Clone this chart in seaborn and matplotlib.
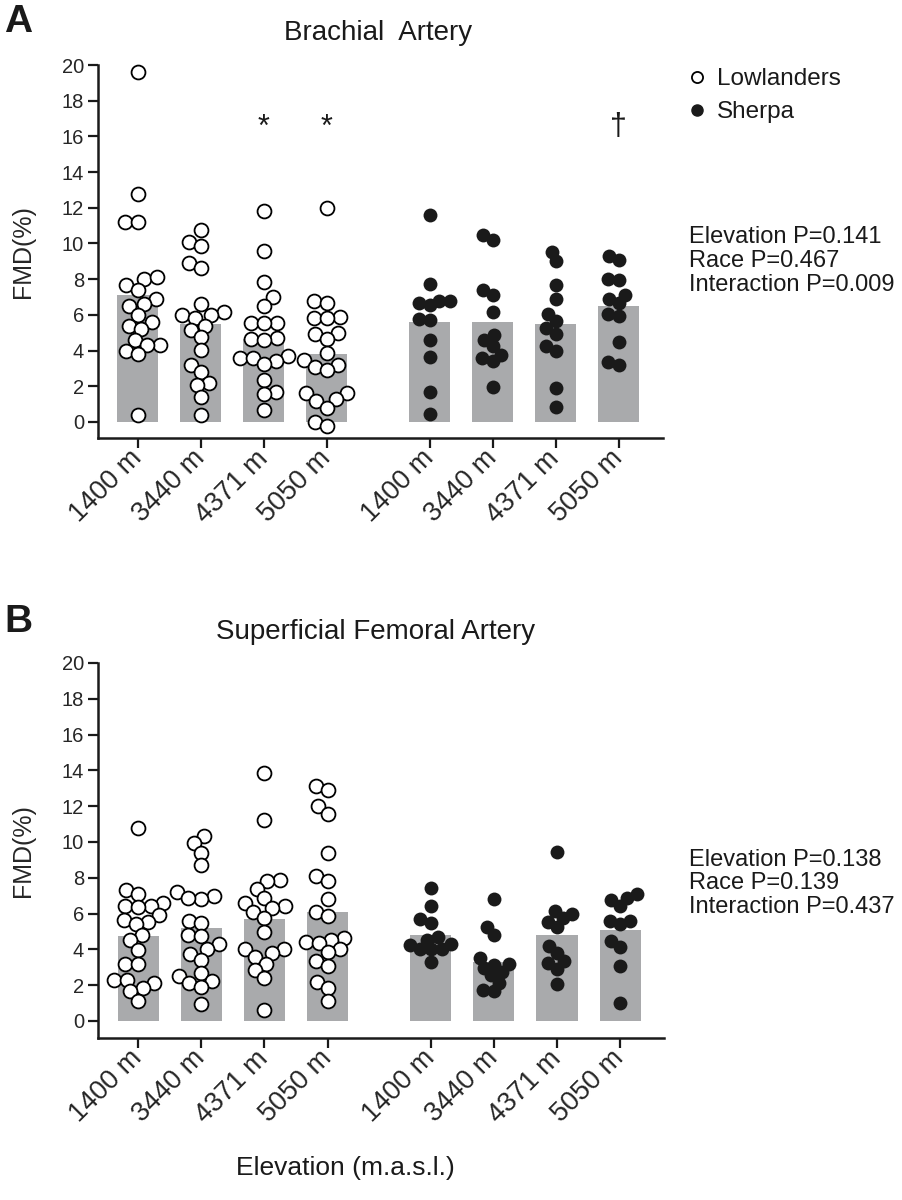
import matplotlib
matplotlib.use('Agg')
import matplotlib.pyplot as plt
from matplotlib.lines import Line2D
import pandas as pd
import seaborn as sns

# x tick labels (elevation)
elevations = ['1400 m', '3440 m', '4371 m', '5050 m']

# A: brachial artery FMD (%) - lowlanders
ba_low_1400 = [19.6, 12.8, 11.2, 11.2, 8.0, 8.1, 7.7, 7.4, 6.9, 6.6, 6.5, 6.0, 5.6, 5.4, 5.2, 4.6, 4.3, 4.3, 4.0, 3.8, 0.4]
ba_low_3440 = [10.75, 10.1, 9.85, 8.9, 8.65, 6.6, 6.15, 6.0, 6.0, 5.8, 5.4, 5.15, 4.75, 4.05, 3.2, 2.8, 2.2, 2.05, 1.4, 0.4]
ba_low_4371 = [11.8, 9.6, 7.85, 7.0, 6.5, 5.55, 5.55, 5.55, 4.7, 4.65, 4.6, 3.7, 3.6, 3.6, 3.4, 3.25, 2.35, 1.7, 1.55, 0.65]
ba_low_5050 = [12.0, 6.8, 6.65, 5.85, 5.9, 5.85, 4.9, 5.0, 4.65, 3.85, 3.45, 3.1, 3.2, 2.9, 1.6, 1.6, 1.2, 1.3, 0.8, 0.0, -0.25]
# A: sherpa
ba_sh_1400 = [11.6, 7.75, 6.8, 6.55, 6.65, 6.8, 5.7, 5.75, 4.6, 3.65, 1.7, 0.45]
ba_sh_3440 = [10.45, 10.2, 7.4, 7.1, 6.15, 4.85, 4.6, 4.25, 3.75, 3.6, 3.4, 1.95]
ba_sh_4371 = [9.55, 9.0, 7.65, 6.9, 6.05, 5.65, 5.25, 4.95, 4.25, 4.0, 1.9, 0.85]
ba_sh_5050 = [9.3, 9.05, 7.95, 8.0, 7.1, 6.9, 6.65, 5.95, 6.05, 4.5, 3.35, 3.2]
ba_bar_low = [7.1, 5.5, 4.67, 3.78]
ba_bar_sh = [5.6, 5.6, 5.48, 6.49]
ba_marks = ['', '', '*', '*', '', '', '', '†']
ba_stats = ['Elevation P=0.141', 'Race P=0.467', 'Interaction P=0.009']

# B: superficial femoral artery FMD (%) - lowlanders
sfa_low_1400 = [10.8, 7.3, 7.1, 6.6, 6.4, 6.4, 6.35, 5.9, 5.65, 5.55, 5.4, 4.8, 4.5, 3.95, 3.2, 3.2, 2.3, 2.3, 2.15, 1.85, 1.65, 1.1]
sfa_low_3440 = [10.35, 9.95, 9.4, 8.7, 7.2, 7.0, 6.8, 6.85, 5.6, 5.45, 4.8, 4.75, 4.3, 4.0, 3.75, 3.4, 2.7, 2.5, 2.25, 2.1, 1.9, 0.95]
sfa_low_4371 = [13.85, 11.25, 7.9, 7.8, 7.4, 6.85, 6.6, 6.4, 6.3, 6.1, 5.75, 4.95, 4.05, 4.0, 3.8, 3.55, 3.2, 2.85, 2.4, 0.6]
sfa_low_5050 = [13.15, 12.9, 12.0, 11.55, 9.4, 8.1, 7.8, 6.8, 6.1, 5.85, 4.65, 4.55, 4.4, 4.35, 4.0, 3.85, 3.35, 3.1, 2.2, 1.85, 1.1]
# B: sherpa
sfa_sh_1400 = [7.45, 6.4, 5.7, 5.5, 4.7, 4.55, 4.3, 4.25, 4.0, 4.0, 4.0, 3.3]
sfa_sh_3440 = [6.8, 5.25, 4.8, 3.5, 3.2, 3.15, 2.95, 2.75, 2.55, 2.15, 1.75, 1.65]
sfa_sh_4371 = [9.45, 6.15, 6.0, 5.75, 5.55, 5.25, 4.2, 3.8, 3.35, 3.25, 2.9, 2.05]
sfa_sh_5050 = [7.1, 6.85, 6.75, 6.4, 5.6, 5.6, 5.4, 4.45, 4.15, 3.05, 1.0]
sfa_bar_low = [4.75, 5.18, 5.68, 6.08]
sfa_bar_sh = [4.81, 3.32, 4.81, 5.09]
sfa_stats = ['Elevation P=0.138', 'Race P=0.139', 'Interaction P=0.437']

# layout: sherpa group shifted right with a wider gap
low_pos = [0, 1, 2, 3]
sh_pos = [p + 4.63 for p in range(4)]
bar_grey = '#a9aaac'
ink = '#1a1a1a'
swarm_size = 7.5   # spacing used by the swarm (points may overlap a bit)
dot_size = 10      # drawn marker size

sns.set_theme(style='ticks')
plt.rcParams['font.family'] = ['Liberation Sans', 'DejaVu Sans']
plt.rcParams['text.color'] = ink


def long_df(groups, pos):
    rows = []
    for p, vals in zip(pos, groups):
        for v in vals:
            rows.append({'pos': p, 'FMD': v})
    return pd.DataFrame(rows)


def draw_panel(ax, low, sh, bar_low, bar_sh, ylo, marks=None):
    bars = pd.DataFrame({'pos': low_pos + sh_pos, 'FMD': bar_low + bar_sh})
    sns.barplot(data=bars, x='pos', y='FMD', native_scale=True, width=0.65,
                color=bar_grey, saturation=1, errorbar=None, linewidth=0, ax=ax)
    sns.swarmplot(data=long_df(low, low_pos), x='pos', y='FMD', native_scale=True,
                  orient='x', color='white', edgecolor='black', linewidth=1.3,
                  size=swarm_size, ax=ax)
    sns.swarmplot(data=long_df(sh, sh_pos), x='pos', y='FMD', native_scale=True,
                  orient='x', color=ink, linewidth=0, size=swarm_size, ax=ax)
    ax.set_xticks(low_pos + sh_pos)
    ax.set_xticklabels(elevations * 2, rotation=45, ha='right', va='center',
                       rotation_mode='anchor', fontsize=19.5)
    ax.set_xlim(-0.635, 8.33)
    ax.set_ylim(ylo, 20)
    ax.set_yticks(range(0, 21, 2))
    ax.tick_params(axis='y', labelsize=14.5, length=7, width=1.6, color=ink, pad=3)
    ax.tick_params(axis='x', length=7, width=1.6, color=ink, pad=5)
    sns.despine(ax=ax)
    for s in ['left', 'bottom']:
        ax.spines[s].set_linewidth(1.8)
        ax.spines[s].set_color(ink)
    ax.set_xlabel('')
    ax.set_ylabel('FMD(%)', fontsize=18)
    ax.yaxis.set_label_coords(-0.112, 0.5)
    if marks:
        for p, m in zip(low_pos + sh_pos, marks):
            if m:
                ax.text(p, 16.5, m, ha='center', va='center', fontsize=22)


fig = plt.figure(figsize=(9.02, 12), dpi=100)
axA = fig.add_axes([0.1086, 0.635, 0.626, 0.3108])
axB = fig.add_axes([0.1086, 0.135, 0.628, 0.3125])

draw_panel(axA, [ba_low_1400, ba_low_3440, ba_low_4371, ba_low_5050],
           [ba_sh_1400, ba_sh_3440, ba_sh_4371, ba_sh_5050],
           ba_bar_low, ba_bar_sh, -0.9, ba_marks)
draw_panel(axB, [sfa_low_1400, sfa_low_3440, sfa_low_4371, sfa_low_5050],
           [sfa_sh_1400, sfa_sh_3440, sfa_sh_4371, sfa_sh_5050],
           sfa_bar_low, sfa_bar_sh, -0.95)

fig.text(0.005, 0.982, 'A', fontsize=28, fontweight='bold', va='center', ha='left')
fig.text(0.005, 0.482, 'B', fontsize=28, fontweight='bold', va='center', ha='left')
fig.text(0.419, 0.9725, 'Brachial  Artery', fontsize=20, ha='center', va='center')
fig.text(0.416, 0.473, 'Superficial Femoral Artery', fontsize=20, ha='center', va='center')
fig.text(0.3825, 0.027, 'Elevation (m.a.s.l.)', fontsize=19, ha='center', va='center')

fig.text(0.764, 0.7825, '\n'.join(ba_stats), fontsize=17, ha='left', va='center', linespacing=1.1)
fig.text(0.764, 0.264, '\n'.join(sfa_stats), fontsize=17, ha='left', va='center', linespacing=1.1)

handles = [Line2D([], [], marker='o', ls='', mfc='white', mec='black', mew=1.3, ms=8, label='Lowlanders'),
           Line2D([], [], marker='o', ls='', mfc=ink, mec=ink, ms=8, label='Sherpa')]
fig.legend(handles=handles, loc='upper left', bbox_to_anchor=(0.765, 0.943), frameon=False,
           fontsize=17.5, handlelength=0.6, handletextpad=0.5, labelspacing=0.45,
           borderpad=0, borderaxespad=0)

# lay out the swarms once with the tighter spacing, then keep those positions
# and draw the markers at full size
fig.canvas.draw()
for ax in (axA, axB):
    for c in ax.collections:
        if 'draw' in c.__dict__:
            del c.draw
        c.set_sizes([dot_size ** 2])
        c.set_clip_on(False)

fig.savefig('out.png', dpi=100)
